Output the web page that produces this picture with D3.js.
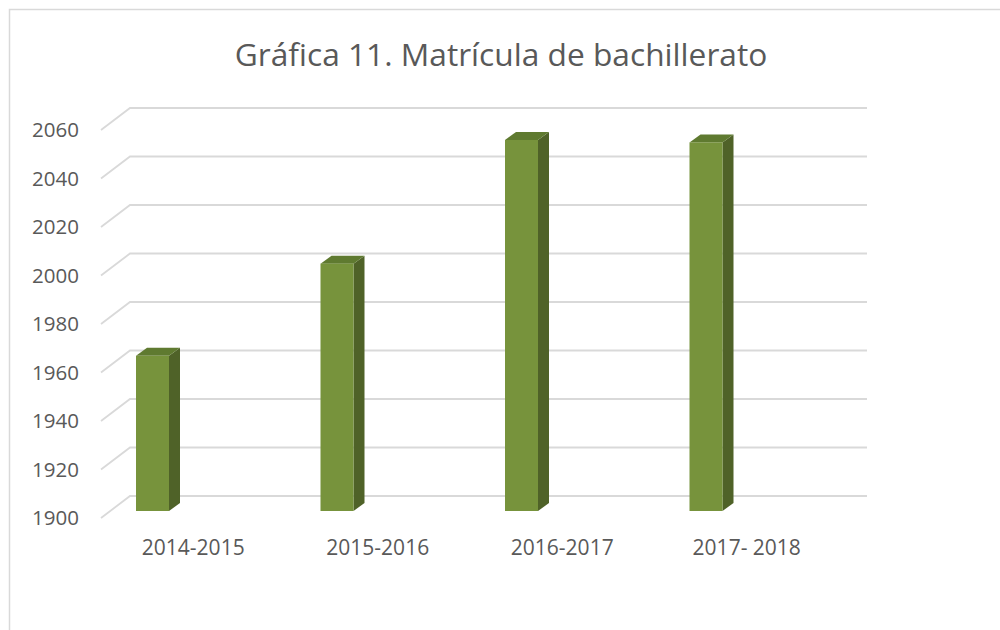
<!DOCTYPE html>
<html>
<head>
<meta charset="utf-8">
<script src="https://cdn.jsdelivr.net/npm/d3@7"></script>
<style>
  html, body { margin: 0; padding: 0; background: #fff; }
  svg { display: block; }
</style>
</head>
<body>
<svg id="chart" width="1000" height="630"></svg>
<script>
const categories = ["2014-2015", "2015-2016", "2016-2017", "2017- 2018"];
const values = [1964, 2002, 2053, 2052];
const yTicks = [1900, 1920, 1940, 1960, 1980, 2000, 2020, 2040, 2060];
const title = "Gráfica 11. Matrícula de bachillerato";

const svg = d3.select("#chart");
const font = "'Open Sans', sans-serif";
const textColor = "#595959";

// frame
svg.append("path").attr("d", "M9.5,630 V9.5 H1000")
  .attr("fill", "none").attr("stroke", "#d9d9d9").attr("stroke-width", 1.5);

// title
svg.append("text").attr("x", 501).attr("y", 66).attr("text-anchor", "middle")
  .attr("font-family", font).attr("font-size", 31.7).attr("fill", textColor).text(title);

// scales
const domain = [1900, 2060];
const yBack = d3.scaleLinear().domain(domain).range([496, 108]);   // back wall
const yFront = d3.scaleLinear().domain(domain).range([518, 130]);  // front edge (labels)
const yBar = d3.scaleLinear().domain(domain).range([511, 123]);    // bar front face
const x = d3.scaleBand().domain(categories).range([101, 839]).padding(0);
const backDx = 29;

// gridlines
const grid = svg.append("g");
yTicks.forEach(t => {
  grid.append("path")
    .attr("d", `M101,${yFront(t)} L${101 + backDx},${yBack(t)} H867`)
    .attr("fill", "none").attr("stroke", "#d9d9d9").attr("stroke-width", 1.8);
});

// y labels
svg.append("g").selectAll("text").data(yTicks).join("text")
  .attr("x", 79).attr("y", d => yFront(d)).attr("dy", "0.36em")
  .attr("text-anchor", "end").attr("font-family", font).attr("font-size", 20.5)
  .attr("fill", textColor).text(d => d);

// bars
const barOffset = 35, barW = 33, dx = 11, dy = 8;
const bars = svg.append("g");
categories.forEach((c, i) => {
  const x0 = x(c) + barOffset, x1 = x0 + barW;
  const yt = yBar(values[i]), yb = yBar(domain[0]);
  // side
  bars.append("path")
    .attr("d", `M${x1},${yt} L${x1 + dx},${yt - dy} L${x1 + dx},${yb - dy} L${x1},${yb} Z`)
    .attr("fill", "#4f6228");
  // top
  bars.append("path")
    .attr("d", `M${x0},${yt} L${x0 + dx},${yt - dy} L${x1 + dx},${yt - dy} L${x1},${yt} Z`)
    .attr("fill", "#5f7a30");
  // front
  bars.append("rect").attr("x", x0).attr("y", yt).attr("width", barW).attr("height", yb - yt)
    .attr("fill", "#77933c");
});

// category labels
svg.append("g").selectAll("text").data(categories).join("text")
  .attr("x", d => x(d) + x.bandwidth() / 2).attr("y", 555)
  .attr("text-anchor", "middle").attr("font-family", font).attr("font-size", 21)
  .attr("fill", textColor).text(d => d);
</script>
</body>
</html>
